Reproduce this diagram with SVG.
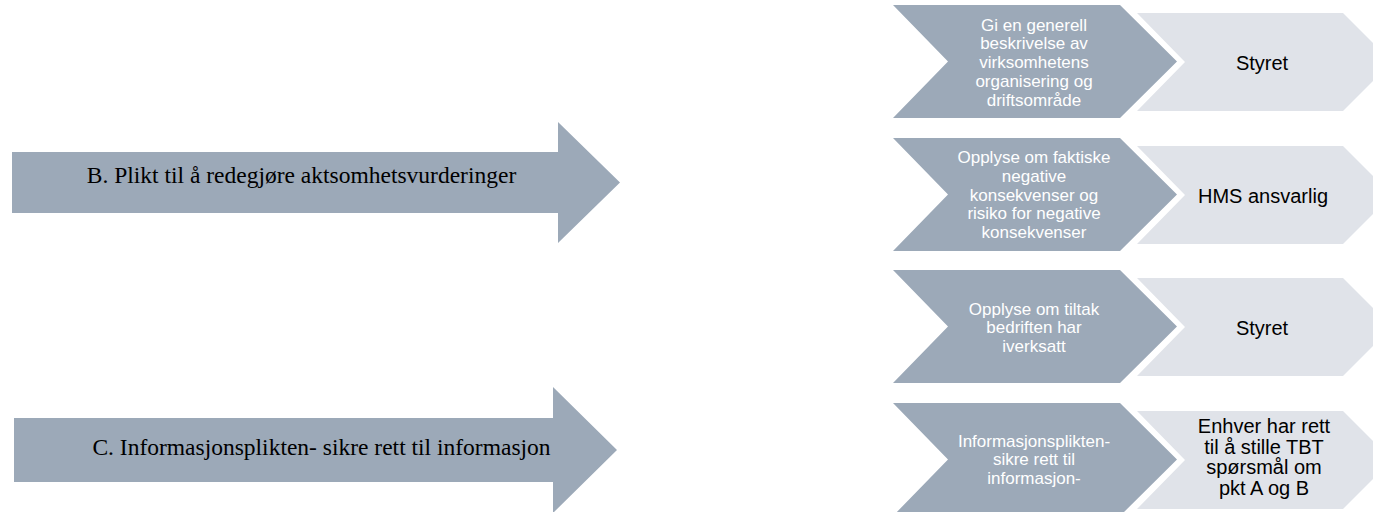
<svg xmlns="http://www.w3.org/2000/svg" width="1373" height="512" viewBox="0 0 1373 512">
  <style>
    .arrow { fill: #9CA9B8; }
    .dark { fill: #9CA9B8; }
    .light { fill: #E0E3E9; }
    .big { font-family: "Liberation Sans", Arial, sans-serif; }
    .big { font-family: "Liberation Serif", "Times New Roman", serif; font-size: 23.5px; fill: #000; text-anchor: middle; }
    .dt { font-family: "Liberation Sans", Arial, sans-serif; font-size: 17px; fill: #FFFFFF; text-anchor: middle; }
    .lt { font-family: "Liberation Sans", Arial, sans-serif; font-size: 20px; fill: #000; text-anchor: middle; }
  </style>
  <defs>
    <path id="darkChevron" d="M893,0 L1120,0 L1177,56.5 L1120,113 L893,113 L948,56.5 Z"/>
    <path id="lightChevron" d="M1137,8 L1343,8 L1392,57 L1343,106 L1137,106 L1185,57 Z"/>
  </defs>
  <rect width="1373" height="512" fill="#FFFFFF"/>

  <g id="arrow-b">
    <path class="arrow" d="M12,152 L558,152 L558,122 L620,182.5 L558,243 L558,213 L12,213 Z"/>
    <text class="big" x="301.5" y="183">B. Plikt til å redegjøre aktsomhetsvurderinger</text>
  </g>

  <g id="arrow-c">
    <path class="arrow" d="M14,418 L553,418 L553,387 L617,450 L553,513 L553,482 L14,482 Z"/>
    <text class="big" x="321.5" y="455">C. Informasjonsplikten- sikre rett til informasjon</text>
  </g>

  <g id="row1" transform="translate(0,5)">
    <g id="row1-step">
      <use href="#darkChevron" class="dark"/>
      <text class="dt" x="1034"><tspan x="1034" y="25.7">Gi en generell</tspan><tspan x="1034" y="44.4">beskrivelse av</tspan><tspan x="1034" y="63.1">virksomhetens</tspan><tspan x="1034" y="81.8">organisering og</tspan><tspan x="1034" y="100.5">driftsområde</tspan></text>
    </g>
    <g id="row1-owner">
      <use href="#lightChevron" class="light"/>
      <text class="lt" x="1262" y="65">Styret</text>
    </g>
  </g>

  <g id="row2" transform="translate(0,138)">
    <g id="row2-step">
      <use href="#darkChevron" class="dark"/>
      <text class="dt" x="1034"><tspan x="1034" y="25.2">Opplyse om faktiske</tspan><tspan x="1034" y="43.9">negative</tspan><tspan x="1034" y="62.6">konsekvenser og</tspan><tspan x="1034" y="81.3">risiko for negative</tspan><tspan x="1034" y="100">konsekvenser</tspan></text>
    </g>
    <g id="row2-owner">
      <use href="#lightChevron" class="light"/>
      <text class="lt" x="1263" y="64.5">HMS ansvarlig</text>
    </g>
  </g>

  <g id="row3" transform="translate(0,270)">
    <g id="row3-step">
      <use href="#darkChevron" class="dark"/>
      <text class="dt" x="1034"><tspan x="1034" y="44.5">Opplyse om tiltak</tspan><tspan x="1034" y="63.2">bedriften har</tspan><tspan x="1034" y="81.9">iverksatt</tspan></text>
    </g>
    <g id="row3-owner">
      <use href="#lightChevron" class="light"/>
      <text class="lt" x="1262" y="64.5">Styret</text>
    </g>
  </g>

  <g id="row4" transform="translate(0,403)">
    <g id="row4-step">
      <use href="#darkChevron" class="dark"/>
      <text class="dt" x="1034"><tspan x="1034" y="43.5">Informasjonsplikten-</tspan><tspan x="1034" y="62.2">sikre rett til</tspan><tspan x="1034" y="80.9">informasjon-</tspan></text>
    </g>
    <g id="row4-owner">
      <use href="#lightChevron" class="light"/>
      <text class="lt" x="1264"><tspan x="1264" y="30">Enhver har rett</tspan><tspan x="1264" y="50.7">til å stille TBT</tspan><tspan x="1264" y="71.4">spørsmål om</tspan><tspan x="1264" y="92.1">pkt A og B</tspan></text>
    </g>
  </g>

  <g id="connectors"></g>
</svg>
